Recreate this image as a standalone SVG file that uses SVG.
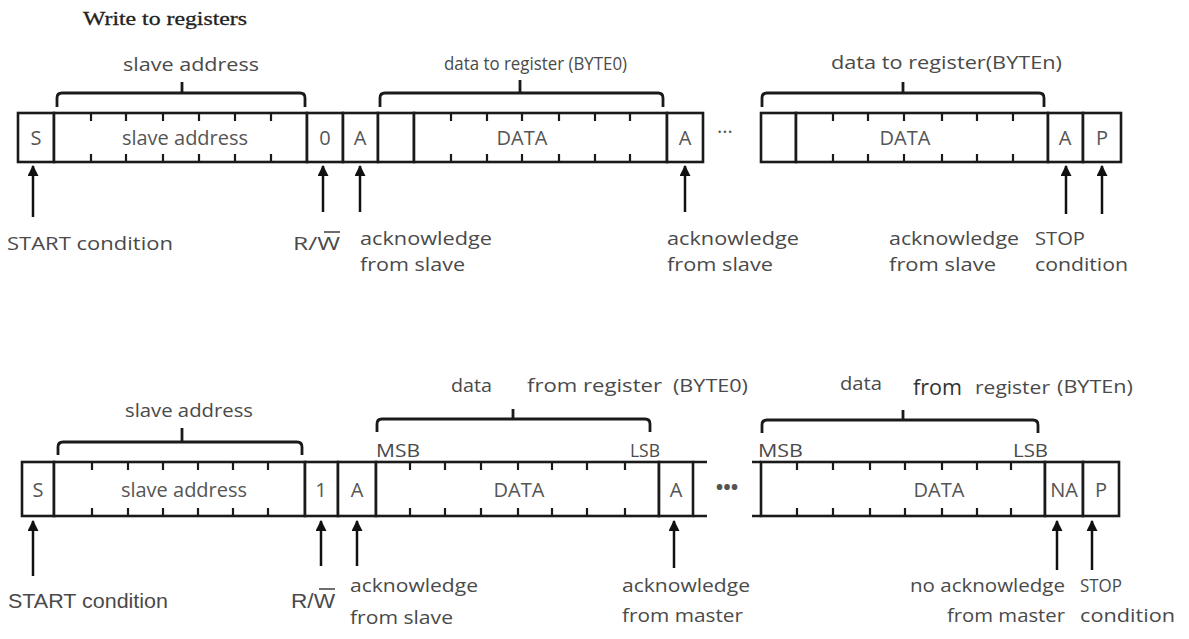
<svg xmlns="http://www.w3.org/2000/svg" width="1189" height="639" viewBox="0 0 1189 639">
<defs>
<style>
.cell{fill:#fff;stroke:#1a1a1a;stroke-width:2.6}
.tick{stroke:#1a1a1a;stroke-width:2.2}
.brace{fill:none;stroke:#1a1a1a;stroke-width:2.8}
.ct{font-family:"Open Sans","Liberation Sans",sans-serif;font-size:20px;fill:#555;text-anchor:middle}
.lb{font-family:"Open Sans","Liberation Sans",sans-serif;font-size:19px;fill:#4a4a4a}
.lb2{font-family:"Liberation Sans","Open Sans",sans-serif;font-size:20px;fill:#4a4a4a}
.arr{stroke:#111;stroke-width:2.5;marker-end:url(#ah)}
.stub{stroke:#1a1a1a;stroke-width:2.6}
</style>
<marker id="ah" viewBox="0 0 10 10" refX="9" refY="5" markerWidth="4.4" markerHeight="4.4" orient="auto" markerUnits="strokeWidth">
<path d="M0,0 L10,5 L0,10 z" fill="#111"/>
</marker>
</defs>
<rect width="1189" height="639" fill="#fff"/>

<text x="83" y="25" font-family="Liberation Serif,serif" font-size="19" fill="#222" stroke="#222" stroke-width="0.3" textLength="164" lengthAdjust="spacingAndGlyphs">Write to registers</text>

<!-- ===== Top row ===== -->
<g id="w-S"><rect class="cell" x="18" y="113" width="36" height="49"/><text class="ct" x="36" y="145">S</text></g>
<g id="w-addr"><rect class="cell" x="54" y="113" width="253" height="49"/>
<path class="tick" d="M91,113v8M126,113v8M163,113v8M199,113v8M235,113v8M271,113v8M91,162v-8M126,162v-8M163,162v-8M199,162v-8M235,162v-8M271,162v-8"/>
<text class="ct" x="185" y="145">slave address</text></g>
<g id="w-RW"><rect class="cell" x="307" y="113" width="36" height="49"/><text class="ct" x="325" y="145">0</text></g>
<g id="w-A1"><rect class="cell" x="343" y="113" width="35" height="49"/><text class="ct" x="360" y="145">A</text></g>
<g id="w-D0"><rect class="cell" x="378" y="113" width="36" height="49"/><rect class="cell" x="414" y="113" width="253" height="49"/>
<path class="tick" d="M451,113v8M487,113v8M522,113v8M559,113v8M595,113v8M630,113v8M451,162v-8M487,162v-8M522,162v-8M559,162v-8M595,162v-8M630,162v-8"/>
<text class="ct" x="522" y="145">DATA</text></g>
<g id="w-A2"><rect class="cell" x="667" y="113" width="36" height="49"/><text class="ct" x="685" y="145">A</text></g>
<g id="w-dots"><text class="ct" x="725" y="139" font-size="14">···</text></g>
<g id="w-Dn"><rect class="cell" x="761" y="113" width="35" height="49"/><rect class="cell" x="796" y="113" width="252" height="49"/>
<path class="tick" d="M833,113v8M868,113v8M904,113v8M942,113v8M977,113v8M1013,113v8M833,162v-8M868,162v-8M904,162v-8M942,162v-8M977,162v-8M1013,162v-8"/>
<text class="ct" x="905" y="145">DATA</text></g>
<g id="w-A3"><rect class="cell" x="1048" y="113" width="35" height="49"/><text class="ct" x="1065" y="145">A</text></g>
<g id="w-P"><rect class="cell" x="1083" y="113" width="38" height="49"/><text class="ct" x="1102" y="145">P</text></g>

<g id="w-braces">
<path class="brace" d="M57,107v-9q0,-5 5,-5h238q5,0 5,5v9M182,93v-11"/>
<path class="brace" d="M380,107v-9q0,-5 5,-5h273q5,0 5,5v9M520,93v-13"/>
<path class="brace" d="M762,107v-9q0,-5 5,-5h272q5,0 5,5v9M903,93v-11"/>
<text class="lb" x="123" y="71" textLength="136" lengthAdjust="spacingAndGlyphs">slave address</text>
<text class="lb" x="444" y="70" textLength="183" lengthAdjust="spacingAndGlyphs">data to register (BYTE0)</text>
<text class="lb" x="831" y="69" textLength="231" lengthAdjust="spacingAndGlyphs">data to register(BYTEn)</text>
</g>

<g id="w-labels">
<text class="lb" x="7" y="250" textLength="166" lengthAdjust="spacingAndGlyphs">START condition</text>
<text class="lb" x="293" y="250" textLength="47" lengthAdjust="spacingAndGlyphs">R/W</text>
<line x1="324" y1="232" x2="340" y2="232" stroke="#4a4a4a" stroke-width="1.6"/>
<text class="lb" x="360" y="245" textLength="132" lengthAdjust="spacingAndGlyphs">acknowledge</text>
<text class="lb" x="360" y="271" textLength="105" lengthAdjust="spacingAndGlyphs">from slave</text>
<text class="lb" x="667" y="245" textLength="132" lengthAdjust="spacingAndGlyphs">acknowledge</text>
<text class="lb" x="667" y="271" textLength="106" lengthAdjust="spacingAndGlyphs">from slave</text>
<text class="lb" x="889" y="245" textLength="130" lengthAdjust="spacingAndGlyphs">acknowledge</text>
<text class="lb" x="889" y="271" textLength="107" lengthAdjust="spacingAndGlyphs">from slave</text>
<text class="lb" x="1035" y="245" textLength="50" lengthAdjust="spacingAndGlyphs">STOP</text>
<text class="lb" x="1035" y="271" textLength="93" lengthAdjust="spacingAndGlyphs">condition</text>
</g>

<!-- ===== Bottom row ===== -->
<g id="r-S"><rect class="cell" x="22" y="462" width="32" height="54"/><text class="ct" x="38" y="497">S</text></g>
<g id="r-addr"><rect class="cell" x="54" y="462" width="251" height="54"/>
<path class="tick" d="M92,462v8M128,462v8M163,462v8M198,462v8M233,462v8M268,462v8M92,516v-8M128,516v-8M163,516v-8M198,516v-8M233,516v-8M268,516v-8"/>
<text class="ct" x="184" y="497">slave address</text></g>
<g id="r-RW"><rect class="cell" x="305" y="462" width="33" height="54"/><text class="ct" x="321" y="497">1</text></g>
<g id="r-A1"><rect class="cell" x="338" y="462" width="38" height="54"/><text class="ct" x="357" y="497">A</text></g>
<g id="r-D0"><rect class="cell" x="376" y="462" width="283" height="54"/>
<path class="tick" d="M410,462v8M445,462v8M481,462v8M518,462v8M552,462v8M587,462v8M625,462v8M410,516v-8M445,516v-8M481,516v-8M518,516v-8M552,516v-8M587,516v-8M625,516v-8"/>
<text class="ct" x="519" y="497">DATA</text></g>
<g id="r-A2"><rect class="cell" x="659" y="462" width="34" height="54"/><text class="ct" x="676" y="497">A</text>
<path class="stub" d="M693,462h14M693,516h14"/></g>
<g id="r-dots"><text class="ct" x="727" y="494" font-size="20" font-weight="bold" fill="#222">•••</text></g>
<g id="r-Dn"><path class="stub" d="M752,462h9M752,516h9"/><rect class="cell" x="761" y="462" width="284" height="54"/>
<path class="tick" d="M797,462v8M833,462v8M870,462v8M905,462v8M942,462v8M977,462v8M1011,462v8M797,516v-8M833,516v-8M870,516v-8M905,516v-8M942,516v-8M977,516v-8M1011,516v-8"/>
<text class="ct" x="939" y="497">DATA</text></g>
<g id="r-NA"><rect class="cell" x="1045" y="462" width="38" height="54"/><text class="ct" x="1064" y="497" font-size="17">NA</text></g>
<g id="r-P"><rect class="cell" x="1083" y="462" width="36" height="54"/><text class="ct" x="1101" y="497" font-size="22">P</text></g>

<g id="r-braces">
<path class="brace" d="M58,455v-8q0,-5 5,-5h234q5,0 5,5v8M182,442v-14"/>
<path class="brace" d="M377,432v-8q0,-5 5,-5h263q5,0 5,5v8M513,419v-10"/>
<path class="brace" d="M762,433v-8q0,-5 5,-5h266q5,0 5,5v8M903,420v-10"/>
<text class="lb" x="125" y="417" textLength="128" lengthAdjust="spacingAndGlyphs">slave address</text>
<text class="lb"><tspan x="451" y="392" textLength="41" lengthAdjust="spacingAndGlyphs">data</tspan><tspan x="527" y="392" textLength="135" lengthAdjust="spacingAndGlyphs">from register</tspan><tspan x="673" y="392" textLength="75" lengthAdjust="spacingAndGlyphs">(BYTE0)</tspan></text>
<text class="lb"><tspan x="840" y="390" textLength="42" lengthAdjust="spacingAndGlyphs">data</tspan><tspan x="913" y="395" font-size="21" fill="#333" textLength="49" lengthAdjust="spacingAndGlyphs">from</tspan><tspan x="975" y="394" textLength="75" lengthAdjust="spacingAndGlyphs">register</tspan><tspan x="1057" y="393" textLength="76" lengthAdjust="spacingAndGlyphs">(BYTEn)</tspan></text>
<text class="lb" x="376" y="457" font-size="17" textLength="44" lengthAdjust="spacingAndGlyphs">MSB</text>
<text class="lb" x="630" y="457" font-size="17" textLength="30" lengthAdjust="spacingAndGlyphs">LSB</text>
<text class="lb" x="758" y="457" font-size="17" textLength="45" lengthAdjust="spacingAndGlyphs">MSB</text>
<text class="lb" x="1013" y="457" font-size="17" textLength="35" lengthAdjust="spacingAndGlyphs">LSB</text>
</g>

<g id="r-labels">
<text class="lb2" x="8" y="608" font-size="23" textLength="160" lengthAdjust="spacingAndGlyphs">START condition</text>
<text class="lb2" x="291" y="608" font-size="22" textLength="44" lengthAdjust="spacingAndGlyphs">R/W</text>
<line x1="319" y1="589" x2="335" y2="589" stroke="#4a4a4a" stroke-width="1.6"/>
<text class="lb" x="350" y="592" textLength="128" lengthAdjust="spacingAndGlyphs">acknowledge</text>
<text class="lb" x="350" y="624" textLength="103" lengthAdjust="spacingAndGlyphs">from slave</text>
<text class="lb" x="622" y="592" textLength="128" lengthAdjust="spacingAndGlyphs">acknowledge</text>
<text class="lb" x="622" y="622" textLength="121" lengthAdjust="spacingAndGlyphs">from master</text>
<text class="lb" x="910" y="592" textLength="155" lengthAdjust="spacingAndGlyphs">no acknowledge</text>
<text class="lb" x="947" y="622" textLength="118" lengthAdjust="spacingAndGlyphs">from master</text>
<text class="lb" x="1080" y="592" textLength="42" lengthAdjust="spacingAndGlyphs">STOP</text>
<text class="lb" x="1080" y="622" textLength="95" lengthAdjust="spacingAndGlyphs">condition</text>
</g>

<g id="connectors">
<line class="arr" x1="33" y1="217" x2="33" y2="166"/>
<line class="arr" x1="323" y1="212" x2="323" y2="166"/>
<line class="arr" x1="360" y1="212" x2="360" y2="166"/>
<line class="arr" x1="685" y1="212" x2="685" y2="166"/>
<line class="arr" x1="1066" y1="214" x2="1066" y2="166"/>
<line class="arr" x1="1102" y1="214" x2="1102" y2="166"/>
<line class="arr" x1="33" y1="576" x2="33" y2="521"/>
<line class="arr" x1="321" y1="566" x2="321" y2="521"/>
<line class="arr" x1="357" y1="566" x2="357" y2="521"/>
<line class="arr" x1="674" y1="568" x2="674" y2="521"/>
<line class="arr" x1="1057" y1="570" x2="1057" y2="521"/>
<line class="arr" x1="1092" y1="570" x2="1092" y2="521"/>
</g>
</svg>
